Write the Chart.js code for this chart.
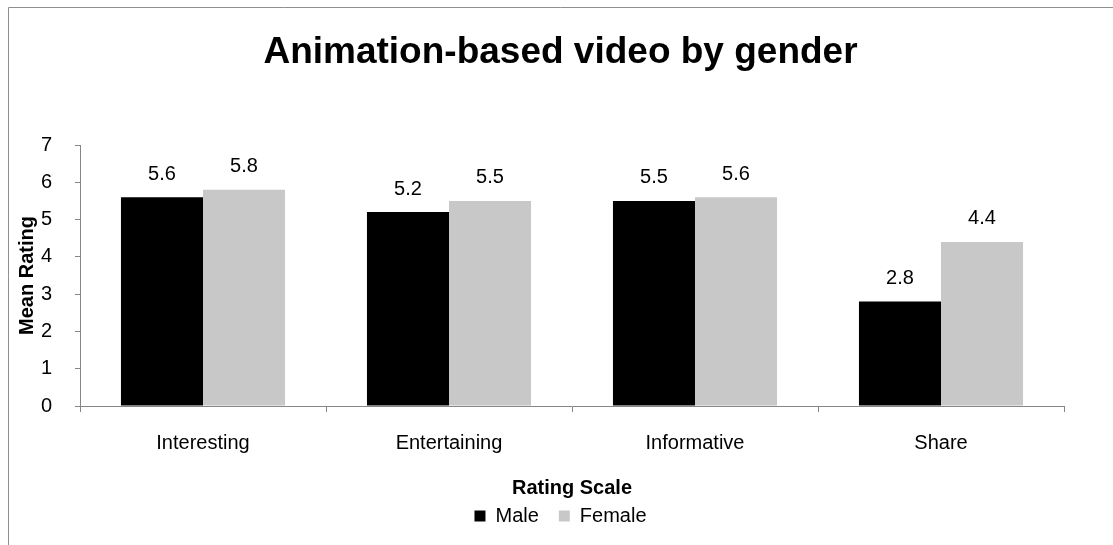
<!DOCTYPE html>
<html><head><meta charset="utf-8">
<script src="https://cdn.jsdelivr.net/npm/chart.js@4/dist/chart.umd.min.js"></script>
<style>html,body{margin:0;padding:0;background:#fff;overflow:hidden}</style>
</head><body>
<canvas id="c" width="1113" height="545"></canvas>
<script>
const categories = ['Interesting', 'Entertaining', 'Informative', 'Share'];
const maleValues = [5.6, 5.2, 5.5, 2.8];
const femaleValues = [5.8, 5.5, 5.6, 4.4];
const yTicks = [0, 1, 2, 3, 4, 5, 6, 7];
const seriesNames = ['Male', 'Female'];

const FONT = '"Liberation Sans", Arial, sans-serif';
const AXIS = '#868686';

const framePlugin = {
  id: 'frame',
  beforeDraw(chart) {
    const ctx = chart.ctx;
    ctx.save();
    ctx.fillStyle = '#fff';
    ctx.fillRect(0, 0, chart.width, chart.height);
    ctx.strokeStyle = '#8f8f8f';
    ctx.lineWidth = 1;
    ctx.beginPath();
    ctx.moveTo(8.5, chart.height);
    ctx.lineTo(8.5, 7.5);
    ctx.lineTo(chart.width, 7.5);
    ctx.stroke();
    ctx.restore();
  }
};

const labelPlugin = {
  id: 'valueLabels',
  afterDatasetsDraw(chart) {
    const ctx = chart.ctx;
    ctx.save();
    ctx.font = '20px ' + FONT;
    ctx.fillStyle = '#000';
    ctx.textAlign = 'center';
    ctx.textBaseline = 'middle';
    chart.data.datasets.forEach((ds, i) => {
      chart.getDatasetMeta(i).data.forEach((el, j) => {
        ctx.fillText(ds.data[j].toFixed(1), el.x, el.y - 23);
      });
    });
    ctx.restore();
  }
};

new Chart(document.getElementById('c'), {
  type: 'bar',
  data: {
    labels: categories,
    datasets: [
      { label: seriesNames[0], data: maleValues, backgroundColor: '#000000', borderWidth: 0 },
      { label: seriesNames[1], data: femaleValues, backgroundColor: '#c8c8c8', borderWidth: 0 }
    ]
  },
  options: {
    responsive: false,
    animation: false,
    devicePixelRatio: 1,
    categoryPercentage: 0.667,
    barPercentage: 1.0,
    layout: { padding: { left: 8, right: 0, top: 0, bottom: 19 } },
    plugins: {
      title: {
        display: true,
        text: 'Animation-based video by gender',
        color: '#000',
        font: { family: FONT, size: 37, weight: 'bold' },
        padding: { top: 31, bottom: 69.6 }
      },
      legend: {
        display: true,
        position: 'bottom',
        maxHeight: 40,
        labels: {
          color: '#000',
          font: { family: FONT, size: 20 },
          boxWidth: 11,
          boxHeight: 11,
          padding: 20
        }
      },
      tooltip: { enabled: false }
    },
    scales: {
      x: {
        grid: { display: true, drawOnChartArea: false, drawTicks: true, tickLength: 6, color: AXIS, offset: true },
        border: { display: true, color: AXIS },
        ticks: { color: '#000', font: { family: FONT, size: 20 }, padding: 19 },
        title: {
          display: true, text: 'Rating Scale', color: '#000',
          font: { family: FONT, size: 20, weight: 'bold' },
          padding: { top: 0, bottom: -14 }
        },
        afterFit(s) { s.height = 80; }
      },
      y: {
        min: 0, max: 7,
        afterBuildTicks(s) { s.ticks = yTicks.map(v => ({ value: v })); },
        grid: { display: true, drawOnChartArea: false, drawTicks: true, tickLength: 5, color: AXIS },
        border: { display: true, color: AXIS },
        ticks: { color: '#000', font: { family: FONT, size: 20 }, padding: 23 },
        title: {
          display: true, text: 'Mean Rating', color: '#000',
          font: { family: FONT, size: 20, weight: 'bold' },
          padding: { top: 7, bottom: 0 }
        },
        afterFit(s) { s.width = 72; }
      },
      yRight: {
        position: 'right',
        display: true,
        grid: { display: false },
        border: { display: false },
        ticks: { display: false },
        afterFit(s) { s.width = 49; }
      }
    }
  },
  plugins: [framePlugin, labelPlugin]
});
</script>
</body></html>
